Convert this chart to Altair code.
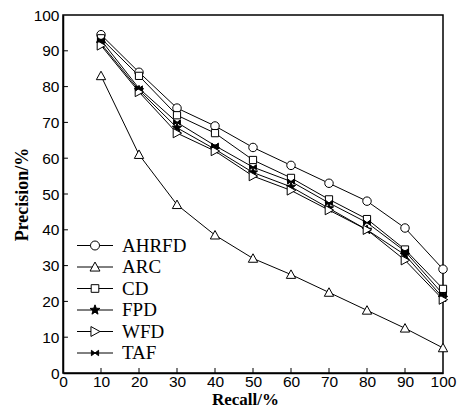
import math
import altair as alt
import pandas as pd

recall = [10, 20, 30, 40, 50, 60, 70, 80, 90, 100]
series = ["AHRFD", "ARC", "CD", "FPD", "WFD", "TAF"]
ahrfd = [94.5, 84, 74, 69, 63, 58, 53, 48, 40.5, 29]
arc = [83, 61, 47, 38.5, 32, 27.5, 22.5, 17.5, 12.5, 7]
cd = [93.5, 83, 72, 67, 59.5, 54.5, 48.5, 43, 34.5, 23.5]
fpd = [92, 79, 68.5, 62.5, 56, 52, 46, 40, 33, 21]
wfd = [91.5, 78.5, 67, 62, 55, 51, 45.5, 40, 31.5, 20.5]
taf = [93, 79.5, 70, 63.5, 57.5, 53.5, 47.5, 42, 34, 22]
tick_vals = [10, 20, 30, 40, 50, 60, 70, 80, 90]
axis_vals = [0, 10, 20, 30, 40, 50, 60, 70, 80, 90, 100]

values = {"AHRFD": ahrfd, "ARC": arc, "CD": cd, "FPD": fpd, "WFD": wfd, "TAF": taf}
rows = []
for s in series:
    for r, p in zip(recall, values[s]):
        rows.append({"series": s, "recall": r, "precision": p})
df = pd.DataFrame(rows)


def star_path(ro=1.15, ri=0.48):
    pts = []
    for i in range(10):
        a = -math.pi / 2 + i * math.pi / 5
        r = ro if i % 2 == 0 else ri
        pts.append(f"{r*math.cos(a):.3f},{r*math.sin(a):.3f}")
    return "M" + "L".join(pts) + "Z"


circ = "M1,0A1,1,0,1,1,-1,0A1,1,0,1,1,1,0Z"
tri_up = "M0,-1.1L1.1,0.9L-1.1,0.9Z"
sq = "M-0.85,-0.85H0.85V0.85H-0.85Z"
star = star_path()
tri_r = "M-0.9,-1.1L1.1,0L-0.9,1.1Z"
bow = "M-0.8,-0.6L0.8,0.6L0.8,-0.6L-0.8,0.6Z"
shapes = [circ, tri_up, sq, star, tri_r, bow]
fills = ["white", "white", "white", "black", "white", "black"]

leg_shapes = [
    "M-4,0H-1M1,0H4" + circ,
    "M-4,0H-0.6M0.6,0H4" + tri_up,
    "M-4,0H-0.85M0.85,0H4" + sq,
    "M-4,0H4" + star,
    "M-4,0H-0.9M1.1,0H4" + tri_r,
    "M-4,0H4" + bow,
]

xs = alt.Scale(domain=[0, 100], nice=False)
ys = alt.Scale(domain=[0, 100], nice=False)

axis_common = dict(values=axis_vals, grid=False, ticks=False, tickSize=0,
                   labelFont="Liberation Sans", labelFontSize=15.5, labelColor="black",
                   labelOverlap=False, labelFlush=False,
                   titleFont="Liberation Serif", titleFontWeight="bold", titleColor="black",
                   domainColor="black", domainWidth=1.5)
x_axis = alt.Axis(title="Recall/%", labelPadding=1, titleFontSize=17,
                  titleBaseline="alphabetic", titleY=31, titleX=182, titleAlign="center",
                  **axis_common)
y_axis = alt.Axis(title="Precision/%", labelPadding=4, titlePadding=2,
                  titleFontSize=18, **axis_common)

base = alt.Chart(df)

lines = base.mark_line(color="black", strokeWidth=1).encode(
    x=alt.X("recall:Q", scale=xs, axis=x_axis),
    y=alt.Y("precision:Q", scale=ys, axis=y_axis),
    detail="series:N",
)

points = base.mark_point(filled=True, stroke="black", strokeWidth=1, size=72, opacity=1).encode(
    x=alt.X("recall:Q", scale=xs, axis=x_axis),
    y=alt.Y("precision:Q", scale=ys, axis=y_axis),
    shape=alt.Shape("series:N", scale=alt.Scale(domain=series, range=shapes), legend=None),
    fill=alt.Fill("series:N", scale=alt.Scale(domain=series, range=fills), legend=None),
)

leg = alt.Legend(title=None, orient="none", legendX=22.5, legendY=221,
                 labelFont="Liberation Serif", labelFontSize=19,
                 labelColor="black", labelOffset=17.5, rowPadding=1.5,
                 padding=0, symbolSize=81, symbolStrokeColor="black",
                 symbolStrokeWidth=1, symbolOpacity=1)

legend_layer = base.transform_filter("false").mark_point(
    filled=True, strokeWidth=1, size=81, opacity=1).encode(
    x=alt.X("recall:Q", scale=xs, axis=x_axis),
    y=alt.Y("precision:Q", scale=ys, axis=y_axis),
    shape=alt.Shape("series:N", scale=alt.Scale(domain=series, range=leg_shapes), legend=leg),
    fill=alt.Fill("series:N", scale=alt.Scale(domain=series, range=fills), legend=leg),
    stroke=alt.Stroke("series:N", scale=alt.Scale(domain=series, range=["black"] * 6), legend=leg),
)

xt = pd.DataFrame({"recall": tick_vals, "precision": [0] * len(tick_vals),
                   "l": [1.4] * len(tick_vals)})
yt = pd.DataFrame({"precision": tick_vals, "recall": [0] * len(tick_vals),
                   "l": [1.3] * len(tick_vals)})
xticks = alt.Chart(xt).mark_rule(color="black", strokeWidth=1).encode(
    x=alt.X("recall:Q", scale=xs, axis=x_axis),
    y=alt.Y("precision:Q", scale=ys, axis=y_axis), y2="l:Q")
yticks = alt.Chart(yt).mark_rule(color="black", strokeWidth=1).encode(
    y=alt.Y("precision:Q", scale=ys, axis=y_axis),
    x=alt.X("recall:Q", scale=xs, axis=x_axis), x2="l:Q")

chart = alt.layer(lines, xticks, yticks, points, legend_layer).resolve_scale(
    shape="independent", fill="independent", stroke="independent"
).properties(
    width=380, height=358,
    autosize=alt.AutoSizeParams(type="none"),
    padding={"left": 55, "top": 7, "right": 17, "bottom": 34},
    background="white",
).configure_view(stroke="black", strokeWidth=1.5)

chart.save("out.html", embed_options={"renderer": "svg", "actions": False})
